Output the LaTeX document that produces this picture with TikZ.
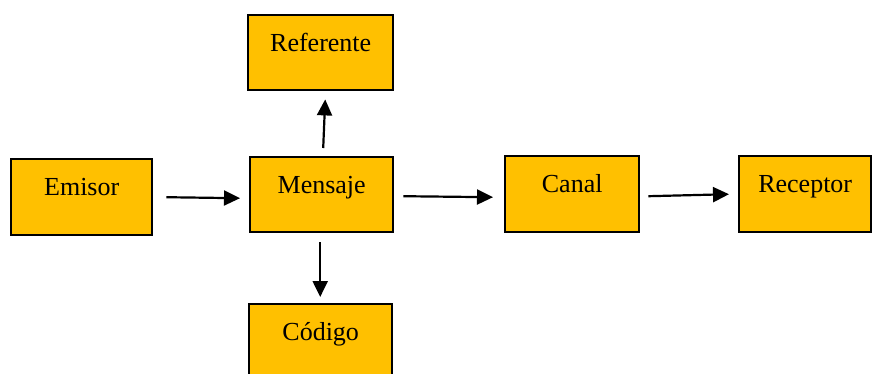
\documentclass[tikz,border=0pt]{standalone}
\usepackage{fontspec}
\setmainfont{Liberation Serif}
\usetikzlibrary{arrows.meta,calc}
\definecolor{boxfill}{HTML}{FFC000}
\begin{document}
\begin{tikzpicture}[x=1pt,y=-1pt,
  box/.style={draw=black,line width=2.4pt,fill=boxfill,inner sep=0pt,anchor=north west,
    text height=36pt,font=\fontsize{26}{30}\selectfont},
  arr/.style={line width=2.2pt,-{Triangle[length=16pt,width=15pt]}}]
\useasboundingbox (0,0) rectangle (872,373);
\clip (0,0) rectangle (872,373);
\node[box,minimum width=141pt,text depth=40pt] (emisor) at (10,158) {Emisor};
\node[box,minimum width=143pt,text depth=39pt] (mensaje) at (249,156) {Mensaje};
\node[box,minimum width=145pt,text depth=39pt] (referente) at (247,14) {Referente};
\node[box,minimum width=143pt,text depth=44pt] (codigo) at (248,303) {Código};
\node[box,minimum width=134pt,text depth=40pt] (canal) at (504,155) {Canal};
\node[box,minimum width=132pt,text depth=40pt] (receptor) at (738,155) {Receptor};
\draw[arr] ($(emisor.east)+(13,0)$) -- ($(mensaje.west)+(-9,3.5)$);
\draw[arr] ($(mensaje.north)+(1.5,-8)$) -- ($(referente.south)+(4.5,8)$);
\draw[arr] ($(mensaje.south)+(-1.5,9)$) -- ($(codigo.north)+(-0.5,-6)$);
\draw[arr] ($(mensaje.east)+(9,1.5)$) -- ($(canal.west)+(-11,3)$);
\draw[arr] ($(canal.east)+(8,2)$) -- ($(receptor.west)+(-9,0)$);
\end{tikzpicture}
\end{document}
